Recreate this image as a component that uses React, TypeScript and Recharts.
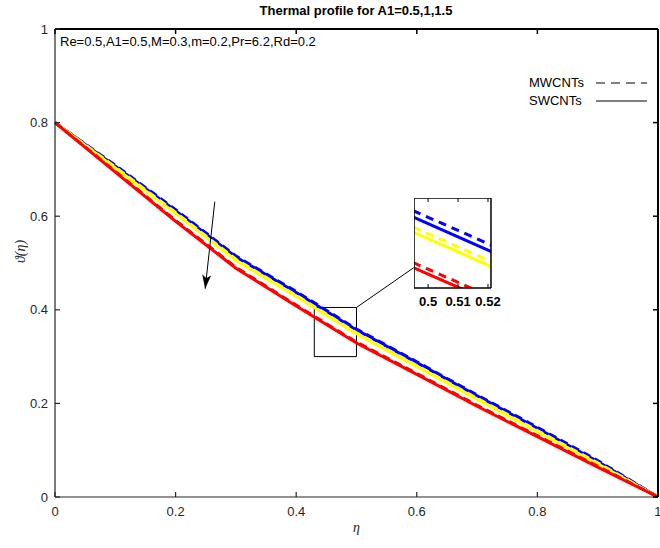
import React from 'react'
import { LineChart, Line, XAxis, YAxis, ReferenceArea, ReferenceLine, Legend } from 'recharts'

// η grid of the main plot
const ETA = [0, 0.1, 0.2, 0.3, 0.4, 0.5, 0.6, 0.7, 0.8, 0.9, 1]

// ϑ(η), A1 = 0.5 / 1 / 1.5, MWCNTs (dashed) and SWCNTs (solid)
const MW_A05 = [0.8, 0.709, 0.614, 0.515, 0.439, 0.359, 0.289, 0.218, 0.149, 0.078, 0]
const SW_A05 = [0.8, 0.707, 0.612, 0.513, 0.437, 0.357, 0.287, 0.216, 0.147, 0.076, 0]
const MW_A1 = [0.8, 0.705, 0.608, 0.508, 0.431, 0.351, 0.281, 0.211, 0.142, 0.073, 0]
const SW_A1 = [0.8, 0.703, 0.606, 0.506, 0.429, 0.349, 0.279, 0.209, 0.14, 0.071, 0]
const MW_A15 = [0.8, 0.696, 0.591, 0.491, 0.41, 0.331, 0.264, 0.196, 0.131, 0.066, 0]
const SW_A15 = [0.8, 0.694, 0.589, 0.489, 0.408, 0.329, 0.262, 0.194, 0.129, 0.064, 0]

const X_TICKS = [0, 0.2, 0.4, 0.6, 0.8, 1]
const Y_TICKS = [0, 0.2, 0.4, 0.6, 0.8, 1]

// zoomed inset
const INSET_ETA = [0.495, 0.5, 0.51, 0.52, 0.525]
const IN_MW_A05 = [0.3551, 0.3525, 0.3474, 0.3422, 0.3397]
const IN_SW_A05 = [0.3526, 0.35, 0.3449, 0.3397, 0.3372]
const IN_MW_A1 = [0.3487, 0.3461, 0.341, 0.3358, 0.3333]
const IN_SW_A1 = [0.3468, 0.3442, 0.3391, 0.3339, 0.3314]
const IN_MW_A15 = [0.3349, 0.3323, 0.3272, 0.322, 0.3195]
const IN_SW_A15 = [0.333, 0.3304, 0.3253, 0.3201, 0.3176]
const INSET_TICKS = [0.5, 0.51, 0.52]

const LEGEND_NAMES = ['MWCNTs', 'SWCNTs']
const TITLE = 'Thermal profile for A1=0.5,1,1.5'
const PARAMS = 'Re=0.5,A1=0.5,M=0.3,m=0.2,Pr=6.2,Rd=0.2'

const SERIES = [
  { key: 'mw05', color: '#0000FF', dashed: true },
  { key: 'sw05', color: '#0000FF', dashed: false },
  { key: 'mw1', color: '#FFFF00', dashed: true },
  { key: 'sw1', color: '#FFFF00', dashed: false },
  { key: 'mw15', color: '#FF0000', dashed: true },
  { key: 'sw15', color: '#FF0000', dashed: false },
]

const mainData = ETA.map((eta, i) => ({
  eta,
  mw05: MW_A05[i], sw05: SW_A05[i],
  mw1: MW_A1[i], sw1: SW_A1[i],
  mw15: MW_A15[i], sw15: SW_A15[i],
}))

const insetData = INSET_ETA.map((eta, i) => ({
  eta,
  mw05: IN_MW_A05[i], sw05: IN_SW_A05[i],
  mw1: IN_MW_A1[i], sw1: IN_SW_A1[i],
  mw15: IN_MW_A15[i], sw15: IN_SW_A15[i],
}))

const FONT = '"Liberation Sans", Arial, Helvetica, sans-serif'
const AX = '#262626'
const BOX = '#000'

// main layout
const W = 660
const H = 548
const M_TOP = 29
const M_RIGHT = 2
// recharts skips axes of size 0, so the box edges get a hairline size
const EDGE = 0.01
const PLOT_TOP = M_TOP + EDGE
const PLOT_RIGHT = W - M_RIGHT - EDGE

// inset layout
const IN_W = 77
const IN_H = 90

// tickSize/tickMargin are 0, so x/y handed in sit on the axis line.
// the inward ticks on the top/right edges of the box are drawn here too
function XTick(props: any) {
  const { x, y, payload } = props
  return (
    <g>
      <line x1={x} x2={x} y1={y} y2={y - 5} stroke={AX} strokeWidth={1.2} />
      <line x1={x} x2={x} y1={PLOT_TOP} y2={PLOT_TOP + 5} stroke={BOX} strokeWidth={1.5} />
      <text x={x} y={y + 19} textAnchor="middle" fontSize={13} fill={AX} fontFamily={FONT}>{payload.value}</text>
    </g>
  )
}

function YTick(props: any) {
  const { x, y, payload } = props
  return (
    <g>
      <line x1={x} x2={x + 5} y1={y} y2={y} stroke={AX} strokeWidth={1.2} />
      <line x1={PLOT_RIGHT} x2={PLOT_RIGHT - 5} y1={y} y2={y} stroke={BOX} strokeWidth={1.5} />
      <text x={x - 7} y={y + 4.5} textAnchor="end" fontSize={13} fill={AX} fontFamily={FONT}>{payload.value}</text>
    </g>
  )
}

function InsetTick(props: any) {
  const { x, y, payload } = props
  return (
    <g>
      <line x1={x} x2={x} y1={y} y2={y - 4} stroke="#000" />
      <line x1={x} x2={x} y1={y - IN_H} y2={y - IN_H + 4} stroke="#000" />
      <text x={x} y={y + 18} textAnchor="middle" fontSize={13} fontWeight="bold" fill="#000" fontFamily={FONT}>{payload.value}</text>
    </g>
  )
}

function LegendBox() {
  return (
    <svg width={135} height={40} style={{ display: 'block' }}>
      {LEGEND_NAMES.map((name, i) => (
        <g key={name}>
          <text x={4} y={14 + i * 18} fontSize={13} fill="#000" fontFamily={FONT}>{name}</text>
          <line x1={71} x2={122} y1={10 + i * 18} y2={10 + i * 18} stroke="#000" strokeDasharray={i === 0 ? '9 6' : undefined} />
        </g>
      ))}
    </svg>
  )
}

export default function App() {
  return (
    <div style={{ position: 'absolute', left: 0, top: 0, width: W, height: H, background: '#fff', fontFamily: FONT }}>
      <svg width={0} height={0} style={{ position: 'absolute' }}>
        <defs>
          <marker id="arrowHead" markerUnits="userSpaceOnUse" markerWidth={15} markerHeight={9} refX={14} refY={4.5} orient="auto">
            <path d="M0,0 L14,4.5 L0,9 L3.5,4.5 Z" fill="#000" />
          </marker>
        </defs>
      </svg>

      <div style={{ position: 'absolute', left: 0, top: 3, width: 712, textAlign: 'center', fontSize: 13, fontWeight: 'bold', color: '#000' }}>
        {TITLE}
      </div>
      <div style={{ position: 'absolute', left: 60, top: 34, fontSize: 13, color: '#000', whiteSpace: 'nowrap' }}>
        {PARAMS}
      </div>

      <LineChart width={W} height={H} data={mainData} margin={{ top: M_TOP, right: M_RIGHT, bottom: 0, left: 0 }}>
        <XAxis dataKey="eta" type="number" domain={[0, 1]} ticks={X_TICKS} interval={0} height={51}
          tickSize={0} tickMargin={0} tickLine={false} axisLine={{ stroke: AX, strokeWidth: 1.2 }} tick={XTick}
          label={{ value: 'η', position: 'insideBottom', offset: 16, fontSize: 14, fontStyle: 'italic', fill: AX, fontFamily: '"Liberation Serif", serif' }} />
        <XAxis xAxisId="t" orientation="top" type="number" domain={[0, 1]} ticks={X_TICKS} height={EDGE}
          tick={false} tickLine={false} axisLine={{ stroke: BOX, strokeWidth: 2 }} />
        <YAxis type="number" domain={[0, 1]} ticks={Y_TICKS} interval={0} width={55}
          tickSize={0} tickMargin={0} tickLine={false} axisLine={{ stroke: AX, strokeWidth: 1.2 }} tick={YTick}
          label={{ value: 'ϑ(η)', angle: -90, position: 'insideLeft', offset: 20, fontSize: 14, fontStyle: 'italic', fill: AX, fontFamily: '"Liberation Serif", serif' }} />
        <YAxis yAxisId="r" orientation="right" type="number" domain={[0, 1]} ticks={Y_TICKS} width={EDGE}
          tick={false} tickLine={false} axisLine={{ stroke: BOX, strokeWidth: 2 }} />

        {SERIES.map(s => (
          <Line key={s.key} dataKey={s.key} type="linear" stroke={s.color} strokeWidth={3}
            strokeDasharray={s.dashed ? '8 5' : undefined} dot={false} isAnimationActive={false} />
        ))}

        <ReferenceArea x1={0.43} x2={0.5} y1={0.3} y2={0.405} fill="none" stroke="#000" strokeWidth={1} ifOverflow="visible" />
        <ReferenceLine segment={[{ x: 0.5, y: 0.405 }, { x: 0.595, y: 0.49 }]} stroke="#000" strokeWidth={1} ifOverflow="visible" />
        <ReferenceLine segment={[{ x: 0.265, y: 0.631 }, { x: 0.249, y: 0.445 }]} stroke="#000" strokeWidth={1}
          markerEnd="url(#arrowHead)" ifOverflow="visible" />

        <Legend layout="vertical" align="center" verticalAlign="middle" content={LegendBox}
          wrapperStyle={{ position: 'absolute', left: 525, top: 73, width: 135 }} />
      </LineChart>

      <div style={{ position: 'absolute', left: 414, top: 198 }}>
        <LineChart width={IN_W + 30} height={IN_H + 22} data={insetData} margin={{ top: 0, right: 30, bottom: 0, left: 0 }}>
          <XAxis dataKey="eta" type="number" domain={[0.4953, 0.521]} allowDataOverflow ticks={INSET_TICKS} interval={0} height={22}
            tickSize={0} tickMargin={0} tickLine={false} axisLine={{ stroke: '#000', strokeWidth: 1.5 }} tick={InsetTick} />
          <XAxis xAxisId="t" orientation="top" type="number" domain={[0.4953, 0.521]} height={EDGE}
            tick={false} tickLine={false} axisLine={{ stroke: '#000', strokeWidth: 1.5 }} />
          <YAxis type="number" domain={[0.325, 0.36]} allowDataOverflow width={EDGE} tick={false} tickLine={false}
            axisLine={{ stroke: '#000', strokeWidth: 1.5 }} />
          <YAxis yAxisId="r" orientation="right" type="number" domain={[0.325, 0.36]} width={EDGE} tick={false} tickLine={false}
            axisLine={{ stroke: '#000', strokeWidth: 1.5 }} />
          {SERIES.map(s => (
            <Line key={s.key} dataKey={s.key} type="linear" stroke={s.color} strokeWidth={3}
              strokeDasharray={s.dashed ? '8 6' : undefined} dot={false} isAnimationActive={false} />
          ))}
        </LineChart>
      </div>
    </div>
  )
}
